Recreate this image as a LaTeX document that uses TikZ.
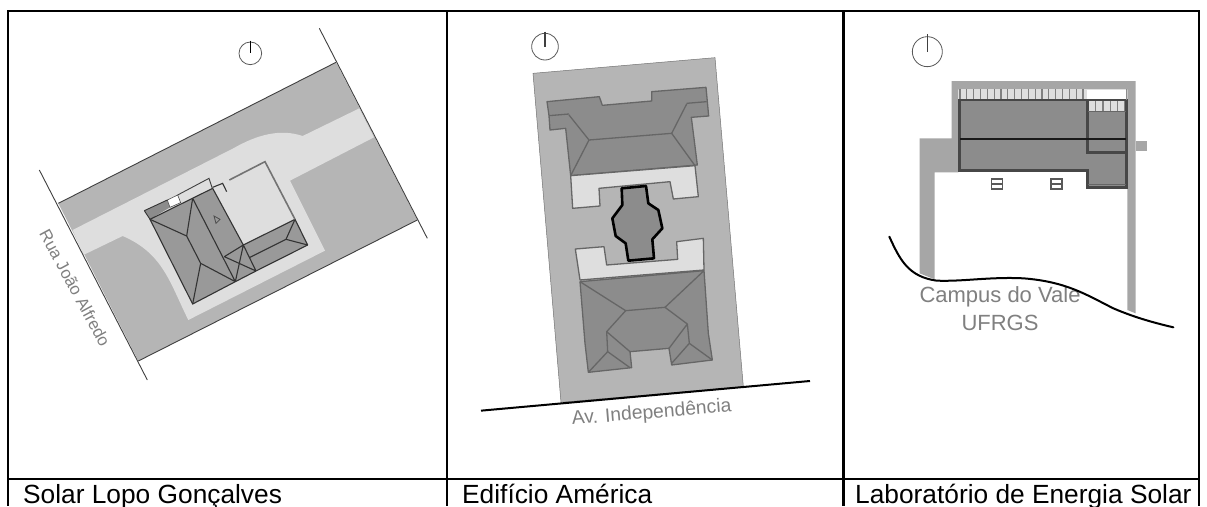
\documentclass[tikz,border=0pt]{standalone}
\usepackage{fontspec}
\setmainfont{Liberation Sans}
\definecolor{lot}{gray}{0.71}
\definecolor{lightp}{gray}{0.87}
\definecolor{roof}{gray}{0.60}
\definecolor{roofb}{gray}{0.55}
\definecolor{edge}{gray}{0.40}
\definecolor{lab}{gray}{0.50}
\tikzset{
  rule/.style={line width=2.2pt,black},
  lbl/.style={text=lab,inner sep=0pt,font=\fontsize{#1}{#1}\selectfont},
  caption/.style={anchor=base west,inner sep=0pt,font=\fontsize{26.3}{30}\selectfont},
  zoomed/.style={x=0.33333pt,y=-0.33333pt},
  ridge/.style={draw=black!80,line width=1.1pt,line join=round},
  ridgeb/.style={draw=edge,line width=1.3pt,line join=round},
  northc/.style={draw=black!65,line width=0.8pt},
}
\begin{document}
\begin{tikzpicture}[x=1pt,y=-1pt]
\useasboundingbox (0,0) rectangle (1207,506);
\clip (0,0) rectangle (1207,506);
\fill[white] (0,0) rectangle (1207,506);
% ---------- left panel
\begin{scope}[zoomed]
\fill[lot] (175,610) -- (1008,187) -- (1252,660) -- (415,1083) -- cycle;
\fill[lightp] (218,690) -- (700,445) .. controls (770,405) and (840,385) .. (908,408) -- (1078,325) -- (1122,412) -- (870,542) -- (975,752) -- (565,960)
  .. controls (510,850) and (490,760) .. (368,708) -- (250,765) -- cycle;
\draw[black!75,line width=0.9pt] (175,610) -- (1008,187);
\draw[black!75,line width=0.9pt] (1252,660) -- (415,1083);
\draw[black!75,line width=0.9pt] (118,510) -- (442,1140);
\draw[black!75,line width=0.9pt] (958,85) -- (1282,715);
\draw[northc] (751,160) circle[radius=34];
\draw[black,line width=1.1pt] (751,122) -- (751,160);
\end{scope}
\begin{scope}[shift={(130,160)},zoomed]
% hatch and white square
\fill[black!45] (43,152) -- (112,120) -- (120,142) -- (60,178) -- cycle;
\fill[white] (112,120) -- (143,105) -- (152,128) -- (120,142) -- cycle;
\draw[black!70,line width=0.6pt] (112,120) -- (143,105) -- (152,128) -- (120,142) -- cycle;
\draw[black!80,line width=0.9pt] (43,152) -- (112,120);
\draw[black!80,line width=0.9pt] (43,152) -- (60,178);
% roof
\fill[roof,ridge] (60,178) -- (248,85) -- (340,255) -- (495,178) -- (533,255) -- (378,333) -- (316,365) -- (188,432) -- cycle;
\draw[ridge] (60,178) -- (170,228) -- (188,115) (170,228) -- (212,310) -- (188,432) (212,310) -- (316,365)
  (188,115) -- (316,365) (283,290) -- (340,255) (283,290) -- (378,333) (340,255) -- (316,365) (340,255) -- (378,333)
  (360,292) -- (468,238) (495,178) -- (468,238) (533,255) -- (468,238);
\draw[black!70,line width=0.8pt] (252,168) -- (270,178) -- (258,190) -- cycle;
% walls
\draw[black!75,line width=0.9pt] (143,105) -- (237,55) -- (247,85);
\draw[black!80,line width=1.1pt] (248,82) -- (278,70) -- (290,95);
\draw[black!55,line width=1.6pt] (298,60) -- (405,5) -- (495,178);
\end{scope}
\node[lbl=16.8,rotate=-61.5] (rua) at (75,288) {Rua João Alfredo};
% ---------- middle panel
\begin{scope}[shift={(450,0)},zoomed]
\fill[lot,draw=black!55,line width=0.5pt] (249,220) -- (795,173) -- (880,1160) -- (333,1207) -- cycle;
\draw[black,line width=2pt] (93,1232) -- (1080,1143);
\draw[northc] (285,140) circle[radius=40];
\draw[black!75,line width=1.6pt] (285,95) -- (285,140);
% upper roof
\fill[roofb,ridgeb] (291,305) -- (448,290) -- (457,316) -- (605,303) -- (605,275) -- (768,262) -- (776,348) -- (724,352) -- (742,495) -- (362,527) -- (347,385) -- (300,390) -- (297,347) -- cycle;
\draw[ridgeb] (297,347) -- (357,342) (710,310) -- (770,305) (357,345) -- (417,420) -- (665,400) -- (710,312) (417,420) -- (362,527) (665,400) -- (735,497);
% light court
\fill[lightp,ridgeb] (362,527) -- (735,497) -- (745,590) -- (670,597) -- (660,545) -- (447,565) -- (450,618) -- (368,625) -- cycle;
\fill[lightp,ridgeb] (376,747) -- (462,740) -- (470,795) -- (683,778) -- (680,725) -- (760,715) -- (762,810) -- (390,840) -- cycle;
% lower roof
\fill[roofb,ridgeb] (390,845) -- (762,812) -- (775,1000) -- (787,1080) -- (665,1095) -- (657,1045) -- (540,1055) -- (545,1103) -- (415,1117) -- (405,1030) -- cycle;
\draw[ridgeb] (390,845) -- (527,932) -- (645,922) -- (762,812) (527,932) -- (470,995) -- (540,1055) (645,922) -- (712,972) -- (657,1045)
  (470,995) -- (473,1055) -- (415,1117) (473,1055) -- (540,1103) (712,972) -- (718,1030) -- (665,1090) (718,1030) -- (787,1080);
% centre block
\fill[roofb,draw=black,line width=2.6pt,line join=round] (515,565) -- (588,558) -- (595,610) -- (625,630) -- (637,685) -- (607,718) -- (612,775) -- (535,782) -- (527,730) -- (497,708) -- (487,655) -- (517,615) -- cycle;
\end{scope}
\node[lbl=19.3,rotate=4.7] (av) at (651.7,413.3) {Av. Independência};
% ---------- right panel
\begin{scope}[shift={(880,20)},zoomed]
\draw[northc] (142,95) circle[radius=45];
\draw[black!75,line width=1.6pt] (142,42) -- (142,95);
\fill[black!35] (119,355) -- (215,355) -- (215,183) -- (767,183) -- (767,880) -- (742,870) -- (742,208) -- (235,208) -- (235,457) -- (164,457) -- (164,778) -- (119,760) -- cycle;
\fill[black!35] (767,362) rectangle (802,393);
% stripes
\fill[lightp] (240,208) rectangle (620,238);
\fill[lightp] (625,240) rectangle (738,272);
\foreach \sx in {240,260.5,...,620}{\draw[black!50,line width=1.3pt] (\sx,208) -- (\sx,238);}
\foreach \sx in {647,669,...,738}{\draw[black!50,line width=1.3pt] (\sx,240) -- (\sx,272);}
% roof
\fill[roofb] (235,240) -- (620,240) -- (620,275) -- (740,275) -- (740,505) -- (618,505) -- (618,455) -- (235,455) -- cycle;
\draw[black!72,line width=2.4pt,line join=miter] (239,238) -- (239,452) -- (622,452) -- (622,502) -- (740,502) -- (740,240) -- (625,240);
\draw[black!72,line width=2.4pt] (239,240) -- (622,240) -- (622,398) -- (738,398);
\draw[black!90,line width=1.2pt] (240,357) -- (738,357);
\draw[edge,line width=1pt] (625,275) -- (738,275) (625,495) -- (738,495);
\draw[black!45,line width=0.8pt] (738,208) -- (738,240);
% windows
\draw[black!65,line width=1.1pt] (335,477) rectangle (368,507) (335,492) -- (368,492);
\draw[black!65,line width=1.1pt] (513,477) rectangle (546,507) (513,492) -- (546,492);
\end{scope}
\node[lbl=22] (campus) at (1000,296.7) {Campus do Vale};
\node[lbl=22] (ufrgs) at (1000,323) {UFRGS};
\begin{scope}[shift={(880,20)},zoomed]
\draw[black,line width=2pt,line cap=round] (28,650) .. controls (60,720) and (85,770) .. (170,782) .. controls (250,785) and (330,770) .. (430,775) .. controls (560,785) and (620,825) .. (700,865) .. controls (770,895) and (830,910) .. (880,922);
\end{scope}
% ---------- table rules
\draw[rule] (8,11) -- (1199,11);
\draw[rule] (8,479) -- (1199,479);
\draw[rule] (8,10) -- (8,506);
\draw[rule] (447,10) -- (447,506);
\draw[rule] (843.5,10) -- (843.5,506);
\draw[rule] (1199,10) -- (1199,506);
\node[caption] (c1) at (23,503) {Solar Lopo Gonçalves};
\node[caption] (c2) at (462,503) {Edifício América};
\node[caption] (c3) at (855,503) {Laboratório de Energia Solar};
\end{tikzpicture}
\end{document}
